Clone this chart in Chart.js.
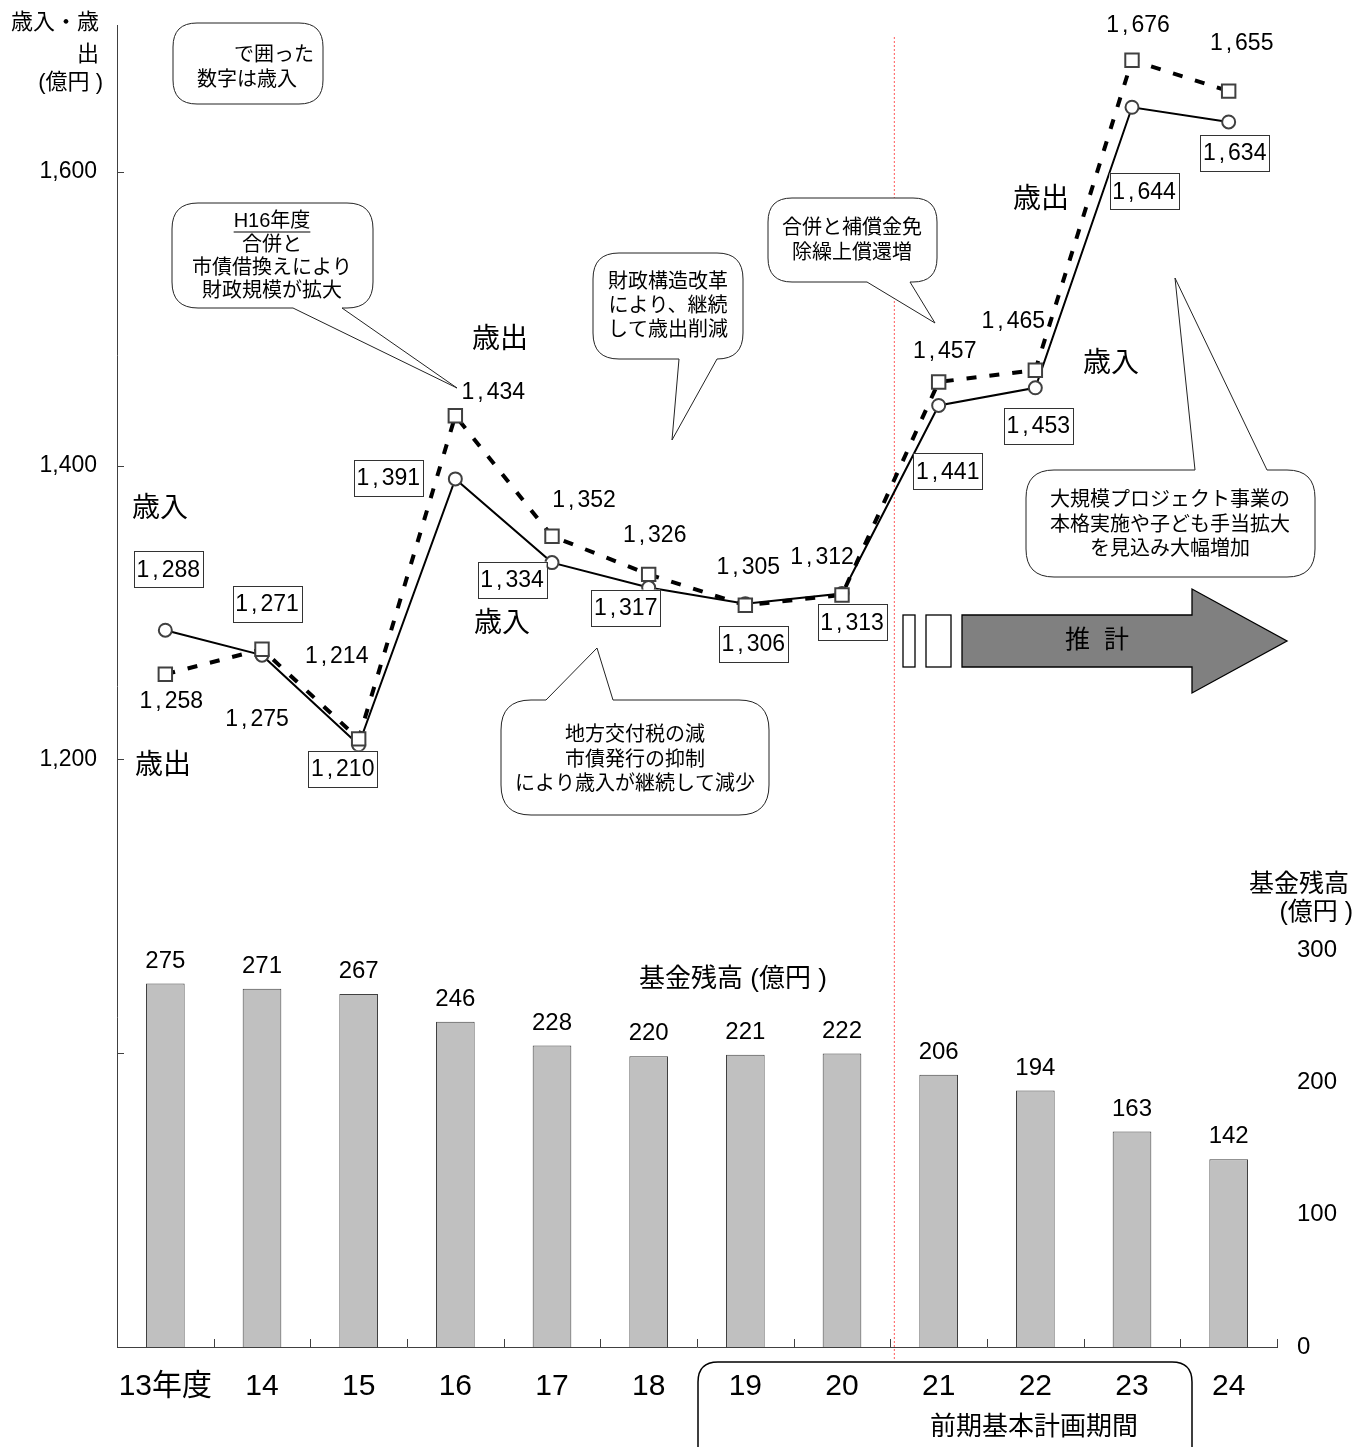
<!DOCTYPE html>
<html>
<head>
<meta charset="utf-8">
<script src="https://cdn.jsdelivr.net/npm/chart.js@4.4.1/dist/chart.umd.min.js"></script>
<style>
  html, body { margin: 0; padding: 0; background: #fff; }
  #wrap { width: 1369px; height: 1447px; position: relative; }
</style>
</head>
<body>
<div id="wrap"><canvas id="c"></canvas></div>
<script>
// ---- data ----
const years = ['13年度', '14', '15', '16', '17', '18', '19', '20', '21', '22', '23', '24'];
const revenue = [1288, 1271, 1210, 1391, 1334, 1317, 1306, 1313, 1441, 1453, 1644, 1634];      // 歳入
const expenditure = [1258, 1275, 1214, 1434, 1352, 1326, 1305, 1312, 1457, 1465, 1676, 1655];  // 歳出
const fundBalance = [275, 271, 267, 246, 228, 220, 221, 222, 206, 194, 163, 142];              // 基金残高
const leftMarks = [1000, 1200, 1400, 1600];
const leftLabelled = [1200, 1400, 1600];
const rightLabelled = [0, 100, 200, 300];

// label placement relative to each point (dx, dy)
const revLabelOffset = [[3,-61],[5,-51],[-16,24],[-67,-1],[-40,17],[-23,20],[8,40],[10,29],[9,66],[3,38],[12,84],[6,31]];
const expLabelOffset = [[6,27],[-5,70],[-22,-82],[38,-23],[32,-36],[6,-39],[3,-38],[-20,-37],[6,-30],[-22,-49],[6,-35],[13,-47]];

const SANS = "'Liberation Sans', 'Noto Sans CJK JP', sans-serif";
const NARROW = "'Liberation Sans Narrow', 'Liberation Sans', 'Noto Sans CJK JP', sans-serif";
const fmt = v => v.toLocaleString('en-US');

function roundRectPath(ctx, x, y, w, h, r) {
  ctx.beginPath();
  ctx.moveTo(x + r, y);
  ctx.lineTo(x + w - r, y);
  ctx.quadraticCurveTo(x + w, y, x + w, y + r);
  ctx.lineTo(x + w, y + h - r);
  ctx.quadraticCurveTo(x + w, y + h, x + w - r, y + h);
  ctx.lineTo(x + r, y + h);
  ctx.quadraticCurveTo(x, y + h, x, y + h - r);
  ctx.lineTo(x, y + r);
  ctx.quadraticCurveTo(x, y, x + r, y);
  ctx.closePath();
}

// rounded speech bubble, optional wedge on the top or bottom edge
function callout(ctx, box, tail, lines, font, cx) {
  const { x, y, w, h, r } = box;
  ctx.save();
  ctx.beginPath();
  ctx.moveTo(x + r, y);
  if (tail && tail.edge === 'top') {
    ctx.lineTo(tail.a, y); ctx.lineTo(tail.tx, tail.ty); ctx.lineTo(tail.b, y);
  }
  ctx.lineTo(x + w - r, y);
  ctx.quadraticCurveTo(x + w, y, x + w, y + r);
  ctx.lineTo(x + w, y + h - r);
  ctx.quadraticCurveTo(x + w, y + h, x + w - r, y + h);
  if (tail && tail.edge === 'bottom') {
    ctx.lineTo(tail.b, y + h); ctx.lineTo(tail.tx, tail.ty); ctx.lineTo(tail.a, y + h);
  }
  ctx.lineTo(x + r, y + h);
  ctx.quadraticCurveTo(x, y + h, x, y + h - r);
  ctx.lineTo(x, y + r);
  ctx.quadraticCurveTo(x, y, x + r, y);
  ctx.closePath();
  ctx.fillStyle = '#fff';
  ctx.fill();
  ctx.strokeStyle = '#222';
  ctx.lineWidth = 1;
  ctx.stroke();
  ctx.fillStyle = '#000';
  ctx.font = font;
  ctx.textAlign = 'center';
  ctx.textBaseline = 'middle';
  lines.forEach(ln => {
    const tx = ln.x !== undefined ? ln.x : cx;
    ctx.fillText(ln.t, tx, ln.y);
    if (ln.underline) {
      const wd = ctx.measureText(ln.t).width;
      ctx.beginPath();
      ctx.moveTo(tx - wd / 2, ln.y + 11);
      ctx.lineTo(tx + wd / 2, ln.y + 11);
      ctx.lineWidth = 1.2;
      ctx.strokeStyle = '#000';
      ctx.stroke();
    }
  });
  ctx.restore();
}

// number with a little air around the thousands separator
function spacedNumber(ctx, str, cx, cy) {
  const parts = str.split(',');
  const gap = 3;
  if (parts.length < 2) { ctx.textAlign = 'center'; ctx.fillText(str, cx, cy); return; }
  const w0 = ctx.measureText(parts[0]).width;
  const wc = ctx.measureText(',').width;
  const w1 = ctx.measureText(parts[1]).width;
  const total = w0 + wc + w1 + 2 * gap;
  let x = cx - total / 2;
  ctx.textAlign = 'left';
  ctx.fillText(parts[0], x, cy); x += w0 + gap;
  ctx.fillText(',', x, cy); x += wc + gap;
  ctx.fillText(parts[1], x, cy);
}

function text(ctx, t, x, y, size, align) {
  ctx.font = size + 'px ' + SANS;
  ctx.textAlign = align || 'center';
  ctx.textBaseline = 'middle';
  ctx.fillStyle = '#000';
  ctx.fillText(t, x, y);
}

const decor = {
  id: 'decor',
  beforeDatasetsDraw(chart) {
    const ctx = chart.ctx;
    const xs = chart.scales.x;
    // boundary between actual figures and estimates
    const bx = (xs.getPixelForValue(7) + xs.getPixelForValue(8)) / 2 + 4;
    ctx.save();
    ctx.strokeStyle = '#ff5a5a';
    ctx.lineWidth = 1;
    ctx.setLineDash([2, 2]);
    ctx.beginPath();
    ctx.moveTo(bx, 37);
    ctx.lineTo(bx, 1360);
    ctx.stroke();
    ctx.restore();
  },
  afterDatasetsDraw(chart) {
    const ctx = chart.ctx;
    const { x: xs, y: ys } = chart.scales;
    const area = chart.chartArea;
    ctx.save();

    // inward tick marks
    ctx.strokeStyle = '#404040';
    ctx.lineWidth = 1;
    ctx.beginPath();
    leftMarks.forEach(v => {
      const py = Math.round(ys.getPixelForValue(v)) + 0.5;
      ctx.moveTo(area.left, py); ctx.lineTo(area.left + 7, py);
    });
    const half = (xs.getPixelForValue(1) - xs.getPixelForValue(0)) / 2;
    years.forEach((_, i) => {
      const px = Math.round(xs.getPixelForValue(i) + half) + 0.5;
      ctx.moveTo(px, area.bottom); ctx.lineTo(px, area.bottom - 8);
    });
    ctx.stroke();

    // fund balance labels
    const barMeta = chart.getDatasetMeta(0);
    ctx.font = '24px ' + SANS;
    ctx.fillStyle = '#000';
    ctx.textBaseline = 'middle';
    ctx.textAlign = 'center';
    barMeta.data.forEach((el, i) => {
      ctx.fillText(String(fundBalance[i]), el.x, el.y - 22.5);
    });

    // expenditure labels (plain)
    const expMeta = chart.getDatasetMeta(2);
    ctx.font = '23px ' + SANS;
    expMeta.data.forEach((el, i) => {
      const [dx, dy] = expLabelOffset[i];
      spacedNumber(ctx, fmt(expenditure[i]), el.x + dx, el.y + dy);
    });

    // revenue labels (boxed)
    const revMeta = chart.getDatasetMeta(1);
    revMeta.data.forEach((el, i) => {
      const [dx, dy] = revLabelOffset[i];
      const cx = el.x + dx, cy = el.y + dy;
      ctx.fillStyle = '#fff';
      ctx.fillRect(cx - 34.5, cy - 18, 69, 36);
      ctx.strokeStyle = '#333';
      ctx.lineWidth = 1;
      ctx.strokeRect(Math.round(cx - 34.5) + 0.5, Math.round(cy - 18) + 0.5, 69, 36);
      ctx.fillStyle = '#000';
      ctx.font = '23px ' + SANS;
      spacedNumber(ctx, fmt(revenue[i]), cx, cy + 1);
    });

    // axis titles
    text(ctx, '歳入・歳', 99, 23, 22, 'right');
    text(ctx, '出', 99, 55, 22, 'right');
    text(ctx, '(億円 )', 103, 83, 22, 'right');
    text(ctx, '基金残高', 1349, 885, 25, 'right');
    text(ctx, '(億円 )', 1353, 913, 25, 'right');

    // series names
    text(ctx, '歳入', 160, 509, 28);
    text(ctx, '歳出', 163, 766, 28);
    text(ctx, '歳出', 500, 340, 28);
    text(ctx, '歳入', 502, 624, 28);
    text(ctx, '歳出', 1041, 200, 28);
    text(ctx, '歳入', 1111, 364, 28);
    text(ctx, '基金残高 (億円 )', 733, 980, 26);

    // notes
    const nf = '20px ' + SANS;
    callout(ctx, { x: 173, y: 23, w: 150, h: 81, r: 24 }, null,
      [{ t: 'で囲った', x: 274, y: 55 }, { t: '数字は歳入', x: 247, y: 80 }], nf);
    callout(ctx, { x: 172, y: 203, w: 201, h: 105, r: 26 },
      { edge: 'bottom', a: 293, b: 342, tx: 457, ty: 388 },
      [{ t: 'H16年度', y: 221, underline: true }, { t: '合併と', y: 245 }, { t: '市債借換えにより', y: 268 }, { t: '財政規模が拡大', y: 291 }],
      nf, 272);
    callout(ctx, { x: 593, y: 253, w: 150, h: 106, r: 26 },
      { edge: 'bottom', a: 679, b: 717, tx: 672, ty: 440 },
      [{ t: '財政構造改革', y: 282 }, { t: 'により、継続', y: 306 }, { t: 'して歳出削減', y: 330 }],
      nf, 668);
    callout(ctx, { x: 768, y: 198, w: 169, h: 84, r: 24 },
      { edge: 'bottom', a: 867, b: 910, tx: 935, ty: 323 },
      [{ t: '合併と補償金免', y: 228 }, { t: '除繰上償還増', y: 253 }],
      nf, 852);
    callout(ctx, { x: 501, y: 700, w: 268, h: 115, r: 30 },
      { edge: 'top', a: 546, b: 613, tx: 597, ty: 648 },
      [{ t: '地方交付税の減', y: 735 }, { t: '市債発行の抑制', y: 760 }, { t: 'により歳入が継続して減少', y: 784 }],
      nf, 635);
    callout(ctx, { x: 1026, y: 470, w: 289, h: 107, r: 28 },
      { edge: 'top', a: 1195, b: 1267, tx: 1175, ty: 278 },
      [{ t: '大規模プロジェクト事業の', y: 500 }, { t: '本格実施や子ども手当拡大', y: 525 }, { t: 'を見込み大幅増加', y: 549 }],
      nf, 1170);

    // estimate arrow
    ctx.fillStyle = '#fff';
    ctx.strokeStyle = '#000';
    ctx.lineWidth = 1.3;
    ctx.fillRect(903, 615, 12, 52); ctx.strokeRect(903, 615, 12, 52);
    ctx.fillRect(926, 615, 25, 52); ctx.strokeRect(926, 615, 25, 52);
    ctx.beginPath();
    ctx.moveTo(962, 615); ctx.lineTo(1192, 615); ctx.lineTo(1192, 589);
    ctx.lineTo(1287, 641); ctx.lineTo(1192, 693); ctx.lineTo(1192, 667);
    ctx.lineTo(962, 667); ctx.closePath();
    ctx.fillStyle = '#808080';
    ctx.fill();
    ctx.stroke();
    text(ctx, '推  計', 1097, 641, 25);

    // planning period bracket
    ctx.strokeStyle = '#000';
    ctx.lineWidth = 1.5;
    roundRectPath(ctx, 698, 1362, 494, 110, 20);
    ctx.stroke();
    ctx.font = '26px ' + NARROW;
    ctx.textAlign = 'center';
    ctx.textBaseline = 'middle';
    ctx.fillStyle = '#000';
    ctx.fillText('前期基本計画期間', 1034, 1428);

    ctx.restore();
  }
};

// keep the plot box fixed: vertical axes reserve no extra room above/below
function fixVertical(width) {
  return s => { s.width = width; s.paddingTop = 0; s.paddingBottom = 0; };
}

new Chart(document.getElementById('c'), {
  data: {
    labels: years,
    datasets: [
      {
        type: 'bar', label: '基金残高', data: fundBalance, yAxisID: 'y2',
        backgroundColor: '#c0c0c0', borderColor: '#404040', borderWidth: 1,
        barPercentage: 0.4, categoryPercentage: 1, order: 3
      },
      {
        type: 'line', label: '歳入', data: revenue, yAxisID: 'y',
        borderColor: '#000', borderWidth: 2, tension: 0,
        pointStyle: 'circle', pointRadius: 6.5, pointBorderWidth: 2,
        pointBorderColor: '#404040', pointBackgroundColor: '#fff', order: 2
      },
      {
        type: 'line', label: '歳出', data: expenditure, yAxisID: 'y',
        borderColor: '#000', borderWidth: 4, borderDash: [10, 13], tension: 0,
        pointStyle: 'rect', pointRadius: 9.5, pointBorderWidth: 2,
        pointBorderColor: '#404040', pointBackgroundColor: '#fff', order: 1
      }
    ]
  },
  options: {
    responsive: true,
    maintainAspectRatio: false,
    devicePixelRatio: 1,
    animation: false,
    layout: { padding: { top: 25, left: 0, right: 0, bottom: 0 } },
    plugins: { legend: { display: false }, tooltip: { enabled: false } },
    scales: {
      x: {
        offset: true,
        grid: { display: false, drawTicks: false },
        border: { display: true, color: '#404040', width: 1 },
        ticks: { color: '#000', font: { family: NARROW, size: 30 }, padding: 22, maxRotation: 0, autoSkip: false },
        afterFit(s) { s.height = 100; s.paddingLeft = 0; s.paddingRight = 0; }
      },
      y: {
        position: 'left', min: 800, max: 1700,
        grid: { display: false, drawTicks: false },
        border: { display: true, color: '#404040', width: 1 },
        ticks: {
          stepSize: 200, color: '#000', padding: 20, autoSkip: false,
          font: { family: SANS, size: 23 },
          callback: v => leftLabelled.includes(v) ? fmt(v) : ''
        },
        afterFit: fixVertical(117)
      },
      y2: {
        position: 'right', min: 0, max: 1000,
        grid: { display: false, drawTicks: false },
        border: { display: false },
        ticks: {
          stepSize: 100, color: '#000', padding: 20, autoSkip: false,
          font: { family: SANS, size: 24 },
          callback: v => rightLabelled.includes(v) ? String(v) : ''
        },
        afterFit: fixVertical(92)
      }
    }
  },
  plugins: [decor]
});
</script>
</body>
</html>
